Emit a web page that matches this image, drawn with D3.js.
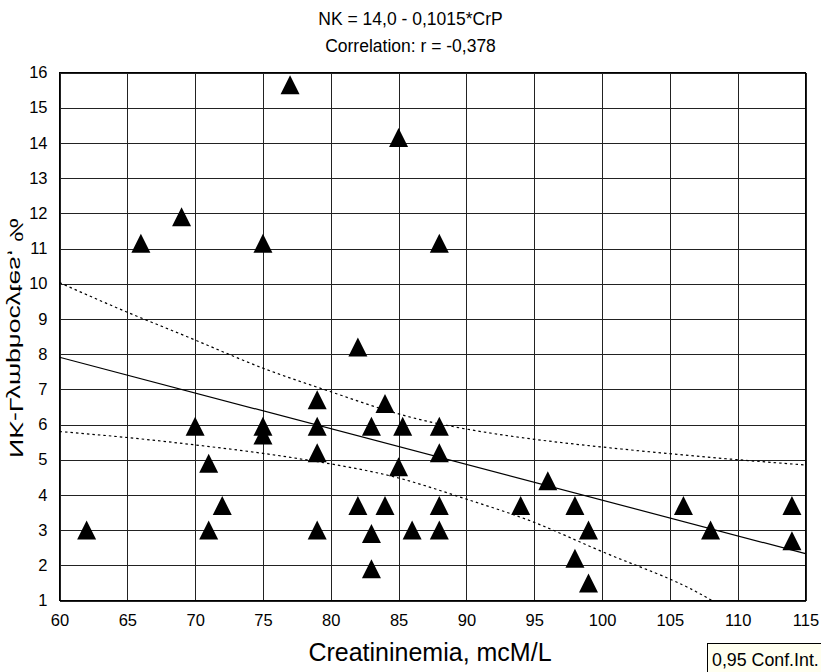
<!DOCTYPE html>
<html>
<head>
<meta charset="utf-8">
<script src="https://cdn.jsdelivr.net/npm/d3@7"></script>
<style>
  html, body { margin: 0; padding: 0; background: #fff; }
  svg { display: block; }
  text { font-family: "Liberation Sans", Arial, Helvetica, sans-serif; fill: #000; }
</style>
</head>
<body>
<svg id="chart" width="821" height="672"></svg>
<script>
// ---- data ----
const titleLines = ["NK = 14,0 - 0,1015*CrP", "Correlation: r = -0,378"];
const xLabel = "Creatininemia, mcM/L";
const yLabel = "NK-Lymphocytes, %";
const legendLabel = "0,95 Conf.Int.";

const xTicks = [60, 65, 70, 75, 80, 85, 90, 95, 100, 105, 110, 115];
const yTicks = [1, 2, 3, 4, 5, 6, 7, 8, 9, 10, 11, 12, 13, 14, 15, 16];

const crp = [62, 66, 69, 70, 71, 71, 72, 75, 75, 75, 77, 79, 79, 79, 79, 82, 82, 83, 83, 83, 84, 84, 85, 85.3, 85, 86, 88, 88, 88, 88, 88, 94, 96, 98, 98, 99, 99, 106, 108, 114, 114];
const nk  = [3.0, 11.15, 11.9, 5.95, 4.9, 3.0, 3.7, 11.15, 5.95, 5.7, 15.65, 6.7, 5.95, 5.2, 3.0, 8.2, 3.7, 5.95, 2.9, 1.9, 6.6, 3.7, 14.15, 5.95, 4.8, 3.0, 11.15, 5.95, 5.2, 3.7, 3.0, 3.7, 4.4, 3.7, 2.2, 3.0, 1.5, 3.7, 3.0, 3.7, 2.7];

const fitX = [60, 115];
const fitY = [7.91, 2.33];

const upperX = [60, 65, 70, 75, 80, 85, 90, 95, 100, 105, 110, 115];
const upperY = [10.03, 9.19, 8.40, 7.60, 6.93, 6.30, 5.87, 5.58, 5.36, 5.17, 5.00, 4.85];
const lowerX = [60, 65, 70, 75, 80, 85, 90, 95, 100, 105, 108.1];
const lowerY = [5.80, 5.63, 5.42, 5.18, 4.88, 4.48, 3.88, 3.22, 2.39, 1.61, 1.0];

// ---- layout ----
const W = 821, H = 672;
const L = 59.5, R = 805.5, T = 72.5, B = 600.5;

const svg = d3.select("#chart");
const x = d3.scaleLinear().domain([60, 115]).range([L, R]);
const y = d3.scaleLinear().domain([1, 16]).range([B, T]);

// clip
svg.append("defs").append("clipPath").attr("id", "plotclip")
  .append("rect").attr("x", L).attr("y", T).attr("width", R - L).attr("height", B - T);

// grid + tick labels via axes
const gx = svg.append("g").attr("transform", `translate(0,${B})`)
  .call(d3.axisBottom(x).tickValues(xTicks).tickFormat(d3.format("d"))
        .tickSize(-(B - T)).tickPadding(14));
const gy = svg.append("g").attr("transform", `translate(${L},0)`)
  .call(d3.axisLeft(y).tickValues(yTicks).tickFormat(d3.format("d"))
        .tickSize(-(R - L)).tickPadding(12));
[gx, gy].forEach(g => {
  g.select(".domain").remove();
  g.selectAll(".tick line").attr("stroke", "#222").attr("stroke-width", 1)
    .attr("shape-rendering", "crispEdges");
  g.selectAll(".tick text").style("font-size", "16.5px")
    .style("font-family", '"Liberation Sans", Arial, sans-serif').attr("fill", "#000");
});

// frame
svg.append("rect").attr("x", L).attr("y", T).attr("width", R - L).attr("height", B - T)
  .attr("fill", "none").attr("stroke", "#000").attr("stroke-width", 1)
  .attr("shape-rendering", "crispEdges");

const plot = svg.append("g").attr("clip-path", "url(#plotclip)");

// regression line
plot.append("path")
  .datum(fitX.map((v, i) => [v, fitY[i]]))
  .attr("d", d3.line().x(d => x(d[0])).y(d => y(d[1])))
  .attr("fill", "none").attr("stroke", "#000").attr("stroke-width", 1.2);

// confidence bands
const bandLine = d3.line().x(d => x(d[0])).y(d => y(d[1])).curve(d3.curveNatural);
[[upperX, upperY], [lowerX, lowerY]].forEach(([xs, ys]) => {
  plot.append("path")
    .datum(xs.map((v, i) => [v, ys[i]]))
    .attr("d", bandLine)
    .attr("fill", "none").attr("stroke", "#000").attr("stroke-width", 1.2)
    .attr("stroke-dasharray", "2.5,3");
});

// triangle markers
const tri = {
  draw(ctx) {
    const h = 9.5;
    ctx.moveTo(0, -h);
    ctx.lineTo(h, h);
    ctx.lineTo(-h, h);
    ctx.closePath();
  }
};
svg.append("g").selectAll("path")
  .data(crp.map((v, i) => [v, nk[i]]))
  .join("path")
  .attr("transform", d => `translate(${x(d[0])},${y(d[1])})`)
  .attr("d", d3.symbol().type(tri)())
  .attr("fill", "#000");

// titles
svg.append("text").attr("x", 410.5).attr("y", 25).attr("text-anchor", "middle")
  .style("font-size", "17.5px").text(titleLines[0]);
svg.append("text").attr("x", 410.5).attr("y", 52).attr("text-anchor", "middle")
  .style("font-size", "17.5px").text(titleLines[1]);

// x label
svg.append("text").attr("x", 430).attr("y", 661).attr("text-anchor", "middle")
  .style("font-size", "25px").text(xLabel);

// y label (mirrored as in the reference)
svg.append("text")
  .attr("transform", "translate(10,338) rotate(-90) scale(1,-1)")
  .attr("text-anchor", "middle")
  .attr("textLength", 240).attr("lengthAdjust", "spacingAndGlyphs")
  .style("font-size", "19px").text(yLabel);

// conf int box
svg.append("rect").attr("x", 707.5).attr("y", 643.5).attr("width", 130).attr("height", 40)
  .attr("fill", "#fffff0").attr("stroke", "#000").attr("stroke-width", 1);
svg.append("text").attr("x", 712).attr("y", 666).style("font-size", "17.8px").text(legendLabel);
</script>
</body>
</html>
